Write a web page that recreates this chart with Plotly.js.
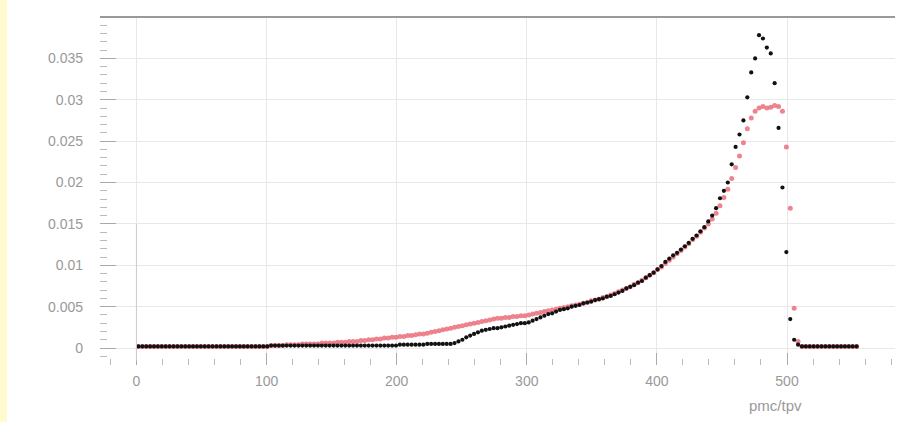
<!DOCTYPE html>
<html>
<head>
<meta charset="utf-8">
<script src="https://cdn.plot.ly/plotly-3.0.1.min.js"></script>
<style>
html,body{margin:0;padding:0;background:#fff;}
#chart{width:910px;height:422px;position:relative;}
#strip{position:absolute;left:0;top:0;width:7px;height:422px;background:#fffbcf;z-index:10;}
</style>
</head>
<body>
<div id="strip"></div>
<div id="chart"></div>
<script>
// Bin layout (library's x0/dx): first bin centre and bin width
const binStart = 1.5;
const binWidth = 3;

const xTickVals = [0, 100, 200, 300, 400, 500];
const xTickText = ["0", "100", "200", "300", "400", "500"];
const yTickVals = [0, 0.005, 0.01, 0.015, 0.02, 0.025, 0.03, 0.035];
const yTickText = ["0", "0.005", "0.01", "0.015", "0.02", "0.025", "0.03", "0.035"];
const xTitle = "pmc/tpv";

// Black series
const blackValues = [
  0.0002,0.0002,0.0002,0.0002,0.0002,0.0002,0.0002,0.0002,0.0002,0.0002,
  0.0002,0.0002,0.0002,0.0002,0.0002,0.0002,0.0002,0.0002,0.0002,0.0002,
  0.0002,0.0002,0.0002,0.0002,0.0002,0.0002,0.0002,0.0002,0.0002,0.0002,
  0.0002,0.0002,0.0002,0.0002,
  0.0003,0.0003,0.0003,0.0003,0.0003,0.0003,0.0003,0.0003,0.0003,0.0003,
  0.0003,0.0003,0.0003,0.0003,0.0003,0.0003,0.0003,0.0003,0.0003,0.0003,
  0.0003,0.0003,0.0003,0.0003,0.0003,0.0003,0.0003,0.0003,0.0003,0.0003,
  0.0003,0.0003,0.0003,
  0.0004,0.0004,0.0004,0.0004,0.0004,0.0004,0.0004,
  0.0005,0.0005,0.0005,0.0005,0.0005,0.0005,0.0005,
  0.0006,0.0008,0.0010,0.0013,0.0015,0.0017,0.0019,0.0021,0.0022,0.0023,
  0.0024,0.0024,0.0025,0.0026,0.0027,0.0028,0.0029,0.0030,0.0030,0.0031,
  0.0033,0.0035,0.0037,0.0039,0.0041,0.0042,0.0044,0.0046,0.0047,0.0048,
  0.0050,0.0051,0.0052,0.0054,0.0055,0.0056,0.0058,0.0059,0.0060,0.0062,
  0.0063,0.0065,0.0067,0.0069,0.0072,0.0074,0.0076,0.0079,0.0081,0.0085,
  0.0088,0.0091,0.0095,
  0.0099,0.0104,0.0108,0.0112,0.0115,0.0119,0.0123,0.0127,0.0132,0.0136,
  0.0141,0.0146,0.0153,0.0160,0.0169,0.0181,0.0190,0.0200,0.0222,0.0243,
  0.0258,0.0275,0.0303,0.0333,0.0350,
  0.0378,0.0374,0.0363,0.0356,0.0320,0.0266,0.0194,0.0116,0.0035,0.0010,
  0.0004,
  0.0002,0.0002,0.0002,0.0002,0.0002,0.0002,0.0002,0.0002,0.0002,0.0002,
  0.0002,0.0002,0.0002,0.0002,0.0002
];

// Red series
const redValues = [
  0.0002,0.0002,0.0002,0.0002,0.0002,0.0002,0.0002,0.0002,0.0002,0.0002,
  0.0002,0.0002,0.0002,0.0002,0.0002,0.0002,0.0002,0.0002,0.0002,0.0002,
  0.0002,0.0002,0.0002,0.0002,0.0002,0.0002,0.0002,0.0002,0.0002,0.0002,
  0.0002,0.0002,0.0002,0.0002,
  0.0003,0.0003,0.0003,0.0003,0.0004,0.0004,0.0004,0.0004,0.0005,0.0005,
  0.0005,0.0005,0.0005,0.0006,0.0006,0.0006,
  0.0006,0.0007,0.0007,0.0007,0.0008,0.0008,0.0008,0.0009,0.0009,0.0010,
  0.0010,0.0011,0.0011,0.0012,0.0012,0.0013,0.0013,
  0.0014,0.0014,0.0015,0.0015,0.0016,0.0017,0.0017,0.0018,0.0019,
  0.0020,0.0021,0.0022,0.0023,0.0024,0.0025,0.0026,0.0027,0.0028,
  0.0029,0.0030,0.0031,0.0032,0.0033,0.0034,0.0035,0.0036,0.0036,
  0.0037,0.0037,0.0038,0.0038,0.0039,0.0039,0.0040,0.0041,
  0.0042,0.0043,0.0044,0.0045,0.0046,0.0047,0.0048,0.0049,0.0050,
  0.0051,0.0052,0.0053,0.0054,0.0055,0.0057,0.0058,0.0059,0.0061,0.0062,
  0.0064,0.0066,0.0068,0.0070,0.0072,0.0074,0.0077,0.0079,0.0082,0.0085,
  0.0088,0.0091,0.0095,0.0098,0.0102,0.0106,0.0110,0.0114,0.0118,0.0122,
  0.0126,0.0131,0.0135,0.0140,0.0145,
  0.0150,0.0156,0.0163,0.0172,0.0182,0.0192,0.0205,0.0218,0.0232,0.0248,
  0.0265,0.0278,0.0286,
  0.0290,0.0292,0.0290,0.0291,0.0293,0.0292,0.0286,
  0.0243,0.0169,0.0048,0.0008,
  0.0002,0.0002,0.0002,0.0002,0.0002,0.0002,0.0002,0.0002,0.0002,0.0002,
  0.0002,0.0002,0.0002,0.0002,0.0002
];

const traces = [
  {
    type: "scatter", mode: "markers",
    x0: binStart, dx: binWidth, y: redValues,
    marker: {color: "rgba(235,110,125,0.85)", size: 5, symbol: "circle"},
    showlegend: false, hoverinfo: "x+y"
  },
  {
    type: "scatter", mode: "markers",
    x0: binStart, dx: binWidth, y: blackValues,
    marker: {color: "#111", size: 4.2, symbol: "circle"},
    showlegend: false, hoverinfo: "x+y"
  }
];

const layout = {
  width: 910, height: 422,
  margin: {l: 100, r: 15, t: 17, b: 57},
  paper_bgcolor: "#fff", plot_bgcolor: "#fff",
  font: {family: "Liberation Sans, Arial, sans-serif", color: "#999", size: 14},
  xaxis: {
    range: [-28, 583],
    tickmode: "array", tickvals: xTickVals, ticktext: xTickText,
    ticks: "inside", ticklen: 12, tickcolor: "#aaa", tickwidth: 1,
    minor: {dtick: 20, ticks: "inside", ticklen: 6, tickcolor: "#bbb", showgrid: false},
    showgrid: true, gridcolor: "#e8e8e8", gridwidth: 1,
    zeroline: false, showline: false,
    ticklabelstandoff: 6,
    tickfont: {size: 14, color: "#999"}
  },
  yaxis: {
    range: [-0.00205, 0.04],
    tickmode: "array", tickvals: yTickVals, ticktext: yTickText,
    ticks: "inside", ticklen: 16, tickcolor: "#aaa", tickwidth: 1,
    minor: {dtick: 0.001, ticks: "inside", ticklen: 7, tickcolor: "#bbb", showgrid: false},
    showgrid: true, gridcolor: "#e8e8e8", gridwidth: 1,
    zeroline: false, showline: false,
    ticklabelstandoff: 16,
    tickfont: {size: 14, color: "#999"}
  },
  shapes: [
    {type: "line", xref: "paper", yref: "paper", x0: 0, x1: 1, y0: 1, y1: 1,
     line: {color: "#999", width: 2}},
    {type: "line", xref: "x", yref: "y", x0: 0, x1: 0, y0: -0.0015, y1: 0.015,
     line: {color: "#ccc", width: 1}}
  ],
  annotations: [
    {text: xTitle, xref: "paper", yref: "paper", x: 0.885, y: -0.115,
     xanchor: "right", yanchor: "middle", showarrow: false,
     font: {size: 15, color: "#999"}}
  ]
};

Plotly.newPlot("chart", traces, layout, {displayModeBar: false, staticPlot: true});
</script>
</body>
</html>
